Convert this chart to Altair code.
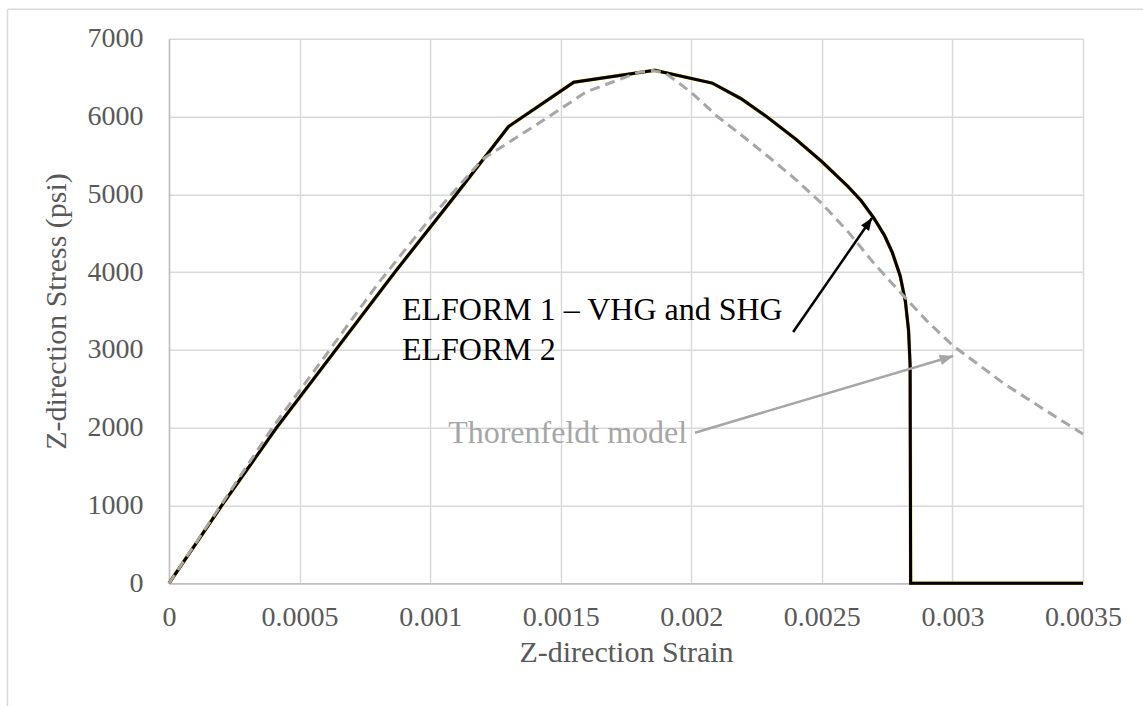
import altair as alt
import pandas as pd

# ELFORM 1 (VHG, SHG) and ELFORM 2 -- overlapping FE results
fe_strain = [0, 0.0002, 0.000412, 0.000865, 0.0011, 0.0013, 0.00155, 0.00186, 0.00208,
             0.00219, 0.00229, 0.0024, 0.0025, 0.0026, 0.00265, 0.0027, 0.00274, 0.00277,
             0.0028, 0.00282, 0.002832, 0.002838, 0.00284, 0.0035]
fe_stress = [0, 990, 2000, 4000, 5000, 5870, 6440, 6595, 6430,
             6230, 5995, 5710, 5420, 5100, 4920, 4690, 4470, 4250,
             3950, 3620, 3250, 2800, 0, 0]

# Thorenfeldt model
th_strain = [0, 0.0002, 0.0004, 0.0006, 0.0008, 0.001, 0.0012, 0.0014, 0.0016, 0.0018,
             0.00185, 0.0019, 0.002, 0.0021, 0.0022, 0.0023, 0.0024, 0.0025, 0.0026, 0.0027,
             0.0028, 0.0029, 0.003, 0.0032, 0.0034, 0.0035]
th_stress = [0, 1010, 2020, 2930, 3850, 4690, 5450, 5880, 6320, 6570,
             6590, 6560, 6310, 6000, 5740, 5470, 5190, 4880, 4520, 4110,
             3740, 3380, 3060, 2560, 2130, 1920]

x_ticks = [0, 0.0005, 0.001, 0.0015, 0.002, 0.0025, 0.003, 0.0035]
y_ticks = [0, 1000, 2000, 3000, 4000, 5000, 6000, 7000]

note_text = ["ELFORM 1 \u2013 VHG and SHG", "ELFORM 2", "Thorenfeldt model"]
note_strain = [0.000892, 0.000892, 0.001069]
note_stress = [3384, 2871, 1800]
note_group = ["fe", "fe", "th"]

arrow_strain = [0.00239, 0.002014]
arrow_stress = [3230, 1936]
arrow_strain2 = [0.002692, 0.003003]
arrow_stress2 = [4695, 2922]

FONT = "Liberation Serif"
GREY_TXT = "#595959"
GREY_LINE = "#A6A6A6"

fe_df = pd.DataFrame({"strain": fe_strain, "stress": fe_stress, "i": range(len(fe_strain))})
th_df = pd.DataFrame({"strain": th_strain, "stress": th_stress, "i": range(len(th_strain))})
note_df = pd.DataFrame({"strain": note_strain, "stress": note_stress, "label": note_text, "g": note_group})
arrow_df = pd.DataFrame({"strain": arrow_strain, "stress": arrow_stress,
                         "strain2": arrow_strain2, "stress2": arrow_stress2, "g": ["fe", "th"]})

xscale = alt.Scale(domain=[0, 0.0035], nice=False, zero=False)
yscale = alt.Scale(domain=[0, 7000], nice=False)

xaxis = alt.Axis(values=x_ticks, format="~g", ticks=False, labelPadding=20,
                 labelFontSize=28, labelFont=FONT, labelColor=GREY_TXT,
                 title="Z-direction Strain", titleFont=FONT, titleFontSize=30,
                 titleColor=GREY_TXT, titleFontWeight="normal", titlePadding=6,
                 gridColor="#D9D9D9", gridWidth=1.5, domainColor="#BFBFBF", domainWidth=1.5,
                 labelFlush=False)
yaxis = alt.Axis(values=y_ticks, format="d", ticks=False, labelPadding=26,
                 labelFontSize=28, labelFont=FONT, labelColor=GREY_TXT,
                 title="Z-direction Stress (psi)", titleFont=FONT, titleFontSize=30,
                 titleColor=GREY_TXT, titleFontWeight="normal", titlePadding=16,
                 gridColor="#D9D9D9", gridWidth=1.5, domainColor="#BFBFBF", domainWidth=1.5,
                 labelFlush=False)

X = alt.X("strain:Q", scale=xscale, axis=xaxis)
Y = alt.Y("stress:Q", scale=yscale, axis=yaxis)

fe_under = alt.Chart(fe_df).mark_line(color="#D4A800", strokeWidth=3.5).encode(
    x=X, y=Y, order="i:Q")
fe_line = alt.Chart(fe_df).mark_line(color="black", strokeWidth=3).encode(
    x=X, y=Y, order="i:Q")
th_line = alt.Chart(th_df).mark_line(color=GREY_LINE, strokeWidth=3, strokeDash=[10, 6]).encode(
    x=X, y=Y, order="i:Q")

notes = alt.Chart(note_df).mark_text(align="left", baseline="alphabetic", font=FONT,
                                     fontSize=32).encode(
    x=X, y=Y, text="label:N",
    color=alt.Color("g:N", scale=alt.Scale(domain=["fe", "th"], range=["black", GREY_LINE]),
                    legend=None))

fe_arrow = alt.Chart(arrow_df[arrow_df.g == "fe"]).mark_rule(color="black", strokeWidth=2.5).encode(
    x=X, y=Y, x2="strain2:Q", y2="stress2:Q")
th_arrow = alt.Chart(arrow_df[arrow_df.g == "th"]).mark_rule(color=GREY_LINE, strokeWidth=2.5).encode(
    x=X, y=Y, x2="strain2:Q", y2="stress2:Q")

head_path = "M0,0 L0.8,2 L-0.8,2 Z"
fe_head = alt.Chart(arrow_df[arrow_df.g == "fe"]).mark_point(
    shape=head_path, filled=True, opacity=1, color="black", size=150, angle=34.7).encode(
    x=alt.X("strain2:Q", scale=xscale, axis=xaxis), y=alt.Y("stress2:Q", scale=yscale, axis=yaxis))
th_head = alt.Chart(arrow_df[arrow_df.g == "th"]).mark_point(
    shape=head_path, filled=True, opacity=1, color=GREY_LINE, size=180, angle=73.4).encode(
    x=alt.X("strain2:Q", scale=xscale, axis=xaxis), y=alt.Y("stress2:Q", scale=yscale, axis=yaxis))

# outer chart frame (partly cropped in the reference)
frame_left = alt.Chart(fe_df.head(1)).mark_rule(color="#D9D9D9", strokeWidth=1.5).encode(
    x=alt.value(-161.5), y=alt.value(-29.5), y2=alt.value(670))
frame_top = alt.Chart(fe_df.head(1)).mark_rule(color="#D9D9D9", strokeWidth=1.5).encode(
    x=alt.value(-161.5), x2=alt.value(980), y=alt.value(-29.5))

chart = alt.layer(
    frame_left, frame_top, fe_under, fe_line, th_line, fe_arrow, th_arrow, fe_head, th_head, notes
).properties(
    width=914, height=544.6,
    padding={"left": 169, "top": 38.7, "right": 60, "bottom": 122.7},
    autosize=alt.AutoSizeParams(type="none"),
    background="white",
).configure_view(stroke=None)

chart.save("out.html", embed_options={"renderer": "svg", "actions": False})
